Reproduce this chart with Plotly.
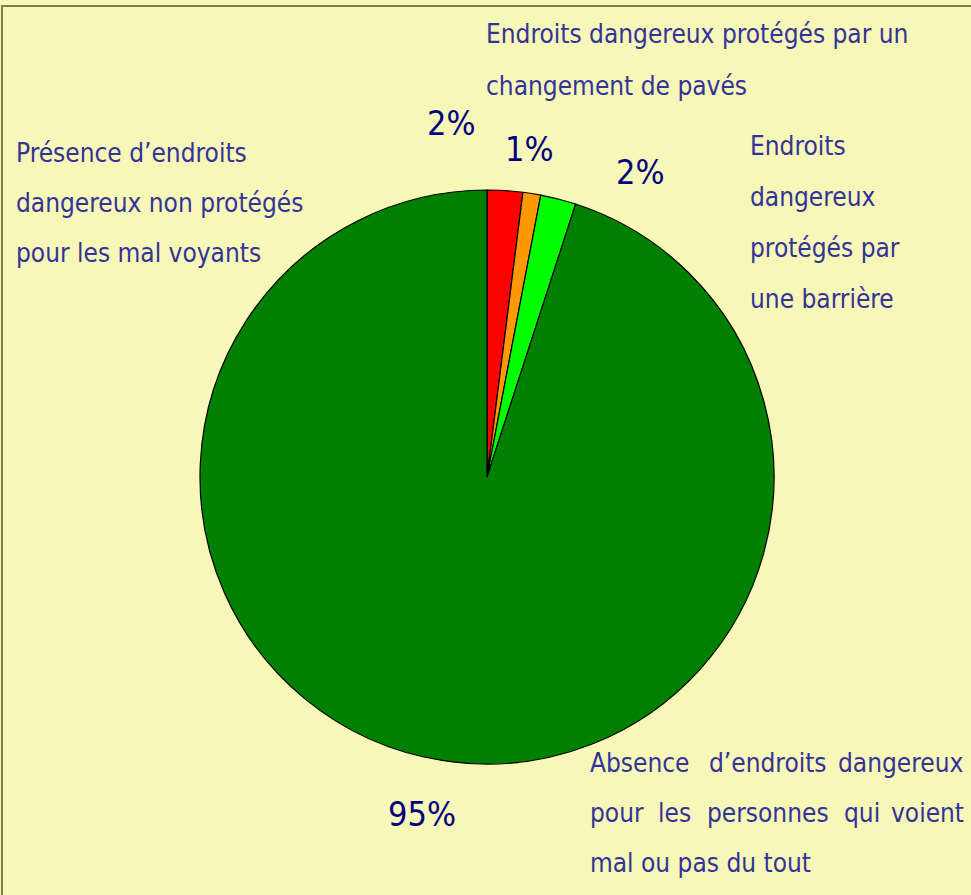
import plotly.graph_objects as go

W, H = 971, 895

# Data
categories = [
    "Endroits dangereux non protégés",
    "Endroits dangereux protégés par un changement de pavés",
    "Endroits dangereux protégés par une barrière",
    "Absence d'endroits dangereux",
]
values = [2, 1, 2, 95]
pct_labels = ["2%", "1%", "2%", "95%"]
colors = ["#FF0000", "#FF9900", "#00FF00", "#008000"]

label_lines = {
    "top": ["Endroits dangereux protégés par un", "changement de pavés"],
    "left": ["Présence d\u2019endroits", "dangereux non protégés", "pour les mal voyants"],
    "right": ["Endroits", "dangereux", "protégés par", "une barrière"],
}
# bottom label is justified in the reference: lines split in words
bottom_lines = [
    ["Absence", "d\u2019endroits", "dangereux"],
    ["pour", "les", "personnes", "qui", "voient"],
    ["mal ou pas du tout"],
]

FONT = "DejaVu Sans Condensed, Liberation Sans Narrow, sans-serif"
LABEL_COLOR = "#333399"
PCT_COLOR = "#000080"
BG = "#F7F7B7"

cx, cy, r = 487, 477, 287

fig = go.Figure(go.Pie(
    labels=categories,
    values=values,
    sort=False,
    direction="clockwise",
    rotation=0,
    marker=dict(colors=colors, line=dict(color="black", width=1.2)),
    textinfo="none",
    hoverinfo="label+percent",
    showlegend=False,
    domain=dict(x=[(cx - r) / W, (cx + r) / W], y=[1 - (cy + r) / H, 1 - (cy - r) / H]),
))

def px(x):
    return x / W

def py(y):
    return 1 - y / H

annotations = []
LS = 26

def ann(t, x, y, anchor, size, color):
    annotations.append(dict(
        text=t, x=px(x), y=py(y), xref="paper", yref="paper",
        xanchor=anchor, yanchor="middle", showarrow=False,
        font=dict(family=FONT, size=size, color=color),
    ))

def add_lines(lines, x0, y0, dy, size):
    for i, t in enumerate(lines):
        ann(t, x0, y0 + i * dy, "left", size, LABEL_COLOR)

add_lines(label_lines["top"], 484, 34, 52, LS)
add_lines(label_lines["left"], 14, 153, 50, LS)
add_lines(label_lines["right"], 748, 146, 51, LS)

# justified bottom block
bx0, bx1, by0, bdy = 588, 966, 763, 50
for i, words in enumerate(bottom_lines):
    y = by0 + i * bdy
    n = len(words)
    if n == 1:
        ann(words[0], bx0, y, "left", LS, LABEL_COLOR)
        continue
    # reference word centres (measured) between edges
    centres = {3: [None, 768, None], 5: [None, 674, 768, 862, None]}[n]
    for j, w in enumerate(words):
        if j == 0:
            ann(w, bx0, y, "left", LS, LABEL_COLOR)
        elif j == n - 1:
            ann(w, bx1, y, "right", LS, LABEL_COLOR)
        else:
            ann(w, centres[j], y, "center", LS, LABEL_COLOR)

pct_pos = [(451, 123), (529, 149), (640, 172), (422, 814)]
for t, (x, y) in zip(pct_labels, pct_pos):
    ann(t, x, y, "center", 34, PCT_COLOR)

fig.update_layout(
    width=W, height=H,
    margin=dict(l=0, r=0, t=0, b=0),
    paper_bgcolor=BG, plot_bgcolor=BG,
    annotations=annotations,
    shapes=[dict(type="rect", xref="paper", yref="paper",
                 x0=px(2), y0=py(6), x1=px(W + 10), y1=py(H + 10),
                 line=dict(color="#808040", width=2), layer="below")],
)

fig.write_html("out.html", config={"displayModeBar": False},
               post_script="document.body.style.margin='0';document.body.style.overflow='hidden';")
